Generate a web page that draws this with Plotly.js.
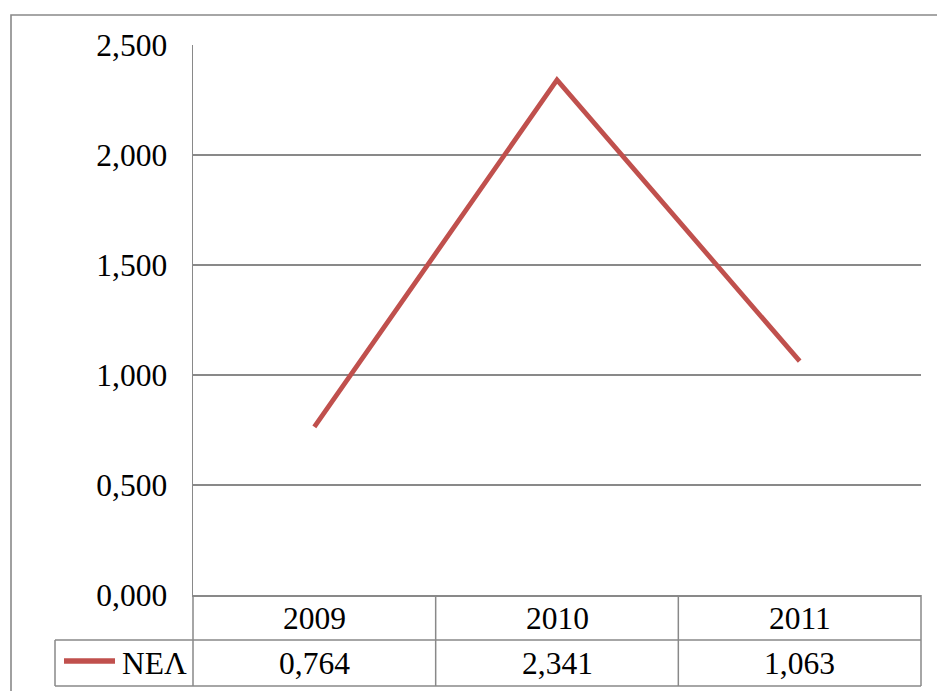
<!DOCTYPE html>
<html>
<head>
<meta charset="utf-8">
<script src="https://cdn.plot.ly/plotly-3.0.1.min.js"></script>
<style>
  html, body { margin: 0; padding: 0; background: #fff; }
  #chart { width: 937px; height: 691px; }
</style>
</head>
<body>
<div id="chart"></div>
<script>
// Series data
const years = ['2009', '2010', '2011'];
const seriesName = 'ΝΕΛ';
const nelValues = [0.764, 2.341, 1.063];
const yTicks = [0, 0.5, 1, 1.5, 2, 2.5];

const FONT = 'Liberation Serif';
const FS = 31.5;
const GRID = '#898989';
const LINE = '#C0504D';

// Plot area geometry (pixels) used to place the data table under the axis
const W = 937, H = 691;
const M = { l: 193, r: 16, t: 45, b: 96 };
const PW = W - M.l - M.r, PH = H - M.t - M.b;
const px = x => (x - M.l) / PW;          // pixel x -> paper x
const py = y => (H - M.b - y) / PH;      // pixel y -> paper y

const fmt = v => v.toFixed(3).replace('.', ',');
const txtFont = { family: FONT, size: FS, color: '#000' };

const shapes = [];
const annotations = [];
const seg = (x0, y0, x1, y1) => shapes.push({
  type: 'line', xref: 'paper', yref: 'paper',
  x0: x0, y0: y0, x1: x1, y1: y1,
  line: { color: GRID, width: 1.5 }
});

// Outer chart border
shapes.push({
  type: 'rect', xref: 'paper', yref: 'paper',
  x0: px(11), y0: py(H + 5), x1: px(W + 5), y1: py(15),
  line: { color: GRID, width: 1.6 }, fillcolor: 'rgba(0,0,0,0)'
});

// Data table grid
const rowMid = py(640), rowBot = py(686);
seg(0, rowMid, 1, rowMid);                 // between year row and value row
seg(px(55), rowBot, 1, rowBot);           // bottom of table
seg(px(55), rowMid, px(55), rowBot);      // legend cell left edge
seg(px(55), rowMid, 0, rowMid);           // legend cell top edge
seg(0, rowBot, 0, 0);                     // left edge below axis
seg(1, rowBot, 1, 0);                     // right edge
for (let i = 0; i < years.length - 1; i++) {
  shapes.push({
    type: 'line', xref: 'x', yref: 'paper',
    x0: i + 0.5, x1: i + 0.5, y0: rowBot, y1: 0,
    line: { color: GRID, width: 1.5 }
  });
}

// Table texts: years and values, centred in their columns
years.forEach((yr, i) => {
  annotations.push({
    xref: 'x', yref: 'paper', x: i, y: py(618),
    xanchor: 'center', yanchor: 'middle',
    text: yr, showarrow: false, font: txtFont
  });
  annotations.push({
    xref: 'x', yref: 'paper', x: i, y: py(663),
    xanchor: 'center', yanchor: 'middle',
    text: fmt(nelValues[i]), showarrow: false, font: txtFont
  });
});

// Legend key in the table
shapes.push({
  type: 'line', xref: 'paper', yref: 'paper',
  x0: px(64), x1: px(115), y0: py(661), y1: py(661),
  line: { color: LINE, width: 5.5 }
});
annotations.push({
  xref: 'paper', yref: 'paper', x: px(189), y: py(663),
  xanchor: 'right', yanchor: 'middle', text: seriesName, showarrow: false,
  font: txtFont
});

const trace = {
  type: 'scatter', mode: 'lines',
  x: years, y: nelValues, name: seriesName,
  line: { color: LINE, width: 4.8 },
  hoverinfo: 'skip'
};

const layout = {
  width: W, height: H,
  margin: M,
  paper_bgcolor: '#fff', plot_bgcolor: '#fff',
  showlegend: false,
  separators: ',.',
  font: txtFont,
  xaxis: {
    type: 'category', range: [-0.5, 2.5],
    showticklabels: false, showgrid: false, zeroline: false,
    showline: true, linecolor: GRID, linewidth: 1.5, ticks: ''
  },
  yaxis: {
    range: [0, 2.5], tickvals: yTicks, tickformat: '.3f',
    showgrid: true, gridcolor: GRID, gridwidth: 1.5,
    zeroline: false, showline: true, linecolor: GRID, linewidth: 1.5,
    ticks: '', ticklabelstandoff: 18,
    tickfont: txtFont
  },
  shapes: shapes,
  annotations: annotations
};

Plotly.newPlot('chart', [trace], layout, { staticPlot: true, displayModeBar: false });
</script>
</body>
</html>
